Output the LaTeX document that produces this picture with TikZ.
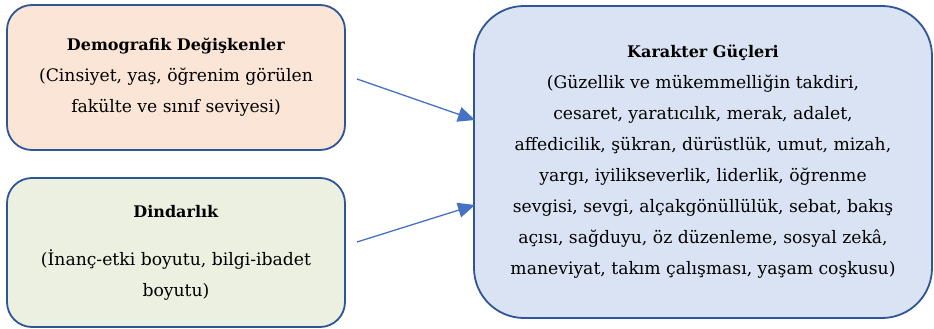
\documentclass[tikz,border=0pt]{standalone}
\usepackage{fontspec}
\setmainfont{DejaVu Serif}
\usetikzlibrary{arrows.meta}
\definecolor{bordc}{HTML}{2F5597}
\definecolor{arrc}{HTML}{4472C4}
\definecolor{peach}{HTML}{FBE5D6}
\definecolor{sage}{HTML}{EBF0E0}
\definecolor{skyb}{HTML}{DAE3F3}
\tikzset{
  boxbase/.style={draw=bordc, line width=1.8pt, align=center, inner sep=0pt,
    font=\fontsize{17.2}{31}\selectfont},
  smallbox/.style={boxbase, rounded corners=25pt, minimum width=338pt, minimum height=145pt},
  bigbox/.style={boxbase, rounded corners=50pt, minimum width=458pt, minimum height=312pt},
  conn/.style={draw=arrc, line width=1.3pt, -{Triangle[length=17pt,width=15pt]}}
}
\begin{document}
\begin{tikzpicture}[x=1pt,y=-1pt]
\useasboundingbox (0,0) rectangle (934,329);
\node[smallbox, fill=peach] (demo) at (176,77.5)
  {\textbf{\fontsize{16}{31}\selectfont Demografik Değişkenler}\\(Cinsiyet, yaş, öğrenim görülen\\fakülte ve sınıf seviyesi)};
\node[smallbox, fill=sage, minimum height=149pt] (din) at (176,252.5)
  {\textbf{\fontsize{16}{31}\selectfont Dindarlık}\\[17pt](İnanç-etki boyutu, bilgi-ibadet\\boyutu)};
\node[bigbox, fill=skyb] (kar) at (703,162)
  {\textbf{\fontsize{16}{31}\selectfont Karakter Güçleri}\\(Güzellik ve mükemmelliğin takdiri,\\cesaret, yaratıcılık, merak, adalet,\\affedicilik, şükran, dürüstlük, umut, mizah,\\yargı, iyilikseverlik, liderlik, öğrenme\\sevgisi, sevgi, alçakgönüllülük, sebat, bakış\\açısı, sağduyu, öz düzenleme, sosyal zekâ,\\maneviyat, takım çalışması, yaşam coşkusu)};
\coordinate (s1) at (357,79);
\coordinate (e1) at (475,120);
\coordinate (s2) at (357,242);
\coordinate (e2) at (475,205);
\draw[conn] (s1) -- (e1);
\draw[conn] (s2) -- (e2);
\end{tikzpicture}
\end{document}
